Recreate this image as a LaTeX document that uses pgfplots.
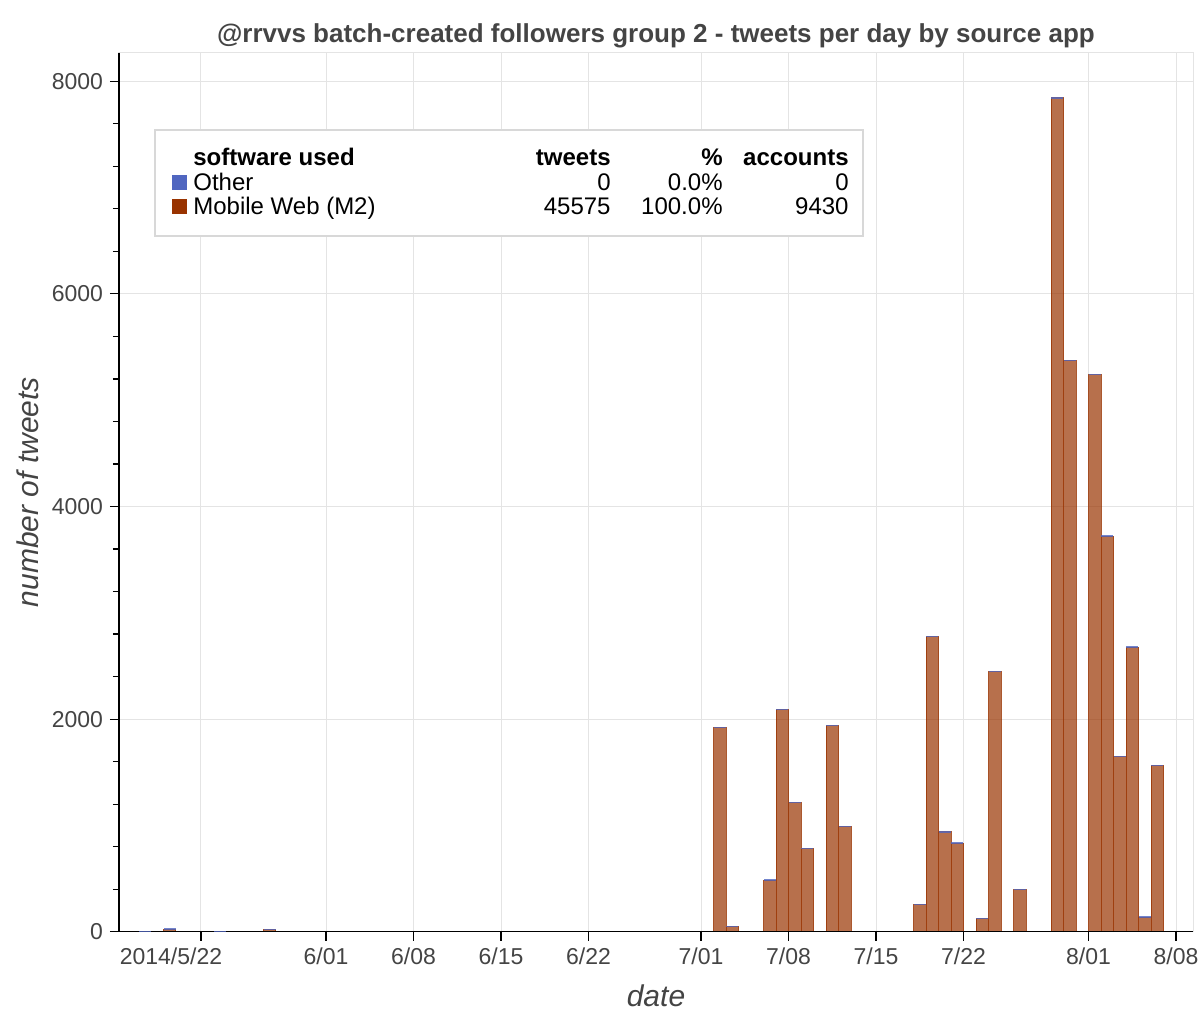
\documentclass[border=0pt]{standalone}
\usepackage{pgfplots}
\pgfplotsset{compat=1.18}
\usepackage{fontspec}
\setmainfont{Liberation Sans}
\definecolor{mweb}{HTML}{993300}
\definecolor{other}{HTML}{5066C0}
\definecolor{txt}{HTML}{444444}
\definecolor{gridc}{HTML}{E4E4E4}
\definecolor{legc}{HTML}{D8D8D8}
\pgfplotstableread{
x y
-4.5 5
-2.5 25
1.5 5
5.5 22
41.5 1923
42.5 51
45.5 486
46.5 2088
47.5 1214
48.5 781
50.5 1938
51.5 991
57.5 258
58.5 2775
59.5 938
60.5 834
62.5 122
63.5 2446
65.5 395
68.5 7843
69.5 5375
71.5 5240
72.5 3722
73.5 1650
74.5 2678
75.5 138
76.5 1565
}\mobileweb
\begin{document}
\begin{tikzpicture}
\begin{axis}[
  scale only axis, width=537pt, height=439.5pt,
  xmin=-6.56, xmax=79.36, ymin=0, ymax=8269,
  clip=false,
  axis line style={draw=gridc, line width=0.5pt},
  xtick pos=left, ytick pos=left,
  tick align=outside, major tick length=4.5pt, minor tick length=3pt,
  tick style={black, line width=0.6pt},
  grid=major, major grid style={draw=gridc, line width=0.5pt},
  xtick={0,10,17,24,31,40,47,54,61,71,78},
  xticklabels={\makebox[0pt]{\hspace{-30pt}2014/5/22},6/01,6/08,6/15,6/22,7/01,7/08,7/15,7/22,8/01,8/08},
  ytick={0,2000,4000,6000,8000},
  minor y tick num=4,
  tick label style={font=\fontsize{11.5}{13}\selectfont, text=txt},
  yticklabel style={/pgf/number format/1000 sep={}, /pgf/number format/assume math mode=true},
  title={@rrvvs batch-created followers group 2 - tweets per day by source app},
  title style={font=\bfseries\fontsize{13}{15}\selectfont, text=txt, at={(rel axis cs:0.5,1)}, anchor=base, yshift=-0.9pt},
  xlabel={date},
  xlabel style={font=\itshape\fontsize{15}{17}\selectfont, text=txt, at={(rel axis cs:0.5,0)}, anchor=base, yshift=-37.2pt},
  ylabel={number of tweets},
  ylabel style={font=\itshape\fontsize{15}{17}\selectfont, text=txt, at={(rel axis cs:0,0.5)}, anchor=base, yshift=40pt},
]
\addplot[ybar, bar width=1, bar shift=0, fill=mweb, fill opacity=0.7, draw=mweb, draw opacity=0.8, line width=0.5pt] table[x=x,y=y] {\mobileweb};
\addplot[only marks, mark=-, mark size=3.1pt, mark options={draw=other, draw opacity=0.8, line width=0.6pt}] table[x=x,y=y] {\mobileweb};
\draw[black, line width=0.6pt] (rel axis cs:0,1) -- (rel axis cs:0,0) -- (rel axis cs:1,0);
\coordinate (psw) at (rel axis cs:0,0);
\coordinate (pne) at (rel axis cs:1,1);
% legend box
\draw[legc, line width=1pt, fill=white] (rel axis cs:0.0335,0.9121) rectangle (rel axis cs:0.6927,0.7915);
\node[anchor=base west, font=\bfseries\fontsize{12}{14}\selectfont, inner sep=0pt] at (rel axis cs:0.0689,0.8720) {software used};
\node[anchor=base east, font=\bfseries\fontsize{12}{14}\selectfont, inner sep=0pt] at (rel axis cs:0.4581,0.8720) {tweets};
\node[anchor=base east, font=\bfseries\fontsize{12}{14}\selectfont, inner sep=0pt] at (rel axis cs:0.5624,0.8720) {\%};
\node[anchor=base east, font=\bfseries\fontsize{12}{14}\selectfont, inner sep=0pt] at (rel axis cs:0.6797,0.8720) {accounts};
\node[anchor=base west, font=\fontsize{12}{14}\selectfont, inner sep=0pt] at (rel axis cs:0.0493,0.8436) {\textcolor{other}{\rule[0.3pt]{7.5pt}{7.5pt}}\hspace{3pt}Other};
\node[anchor=base east, font=\fontsize{12}{14}\selectfont, inner sep=0pt] at (rel axis cs:0.4581,0.8436) {0};
\node[anchor=base east, font=\fontsize{12}{14}\selectfont, inner sep=0pt] at (rel axis cs:0.5624,0.8436) {0.0\%};
\node[anchor=base east, font=\fontsize{12}{14}\selectfont, inner sep=0pt] at (rel axis cs:0.6797,0.8436) {0};
\node[anchor=base west, font=\fontsize{12}{14}\selectfont, inner sep=0pt] at (rel axis cs:0.0493,0.8163) {\textcolor{mweb}{\rule[0.3pt]{7.5pt}{7.5pt}}\hspace{3pt}Mobile Web (M2)};
\node[anchor=base east, font=\fontsize{12}{14}\selectfont, inner sep=0pt] at (rel axis cs:0.4581,0.8163) {45575};
\node[anchor=base east, font=\fontsize{12}{14}\selectfont, inner sep=0pt] at (rel axis cs:0.5624,0.8163) {100.0\%};
\node[anchor=base east, font=\fontsize{12}{14}\selectfont, inner sep=0pt] at (rel axis cs:0.6797,0.8163) {9430};
\end{axis}
\pgfresetboundingbox
\path[use as bounding box] ([shift={(-59.5pt,-44.15pt)}]psw) rectangle ([shift={(3.5pt,26.35pt)}]pne);
\end{tikzpicture}
\end{document}
